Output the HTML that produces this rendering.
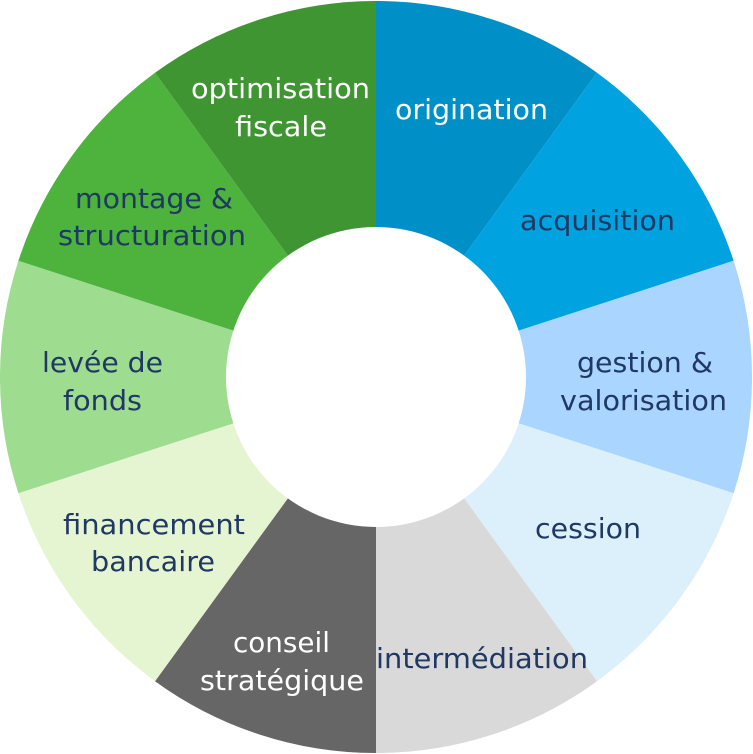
<!DOCTYPE html>
<html><head><meta charset="utf-8"><style>
html,body{margin:0;padding:0;background:#fff;}
svg{display:block}
text{font-family:"DejaVu Sans","Liberation Sans",sans-serif;font-size:28px}
.w{fill:#fff}.d{fill:#1f3864}
</style></head><body>
<svg width="753" height="754" viewBox="0 0 753 754" xmlns="http://www.w3.org/2000/svg">
<path fill="#0090c8" d="M376,377 L376,1 A376,376 0 0 1 597.0,72.8 Z"/>
<path fill="#00a2df" d="M376,377 L597.0,72.8 A376,376 0 0 1 733.6,260.8 Z"/>
<path fill="#a9d5fe" d="M376,377 L733.6,260.8 A376,376 0 0 1 733.6,493.2 Z"/>
<path fill="#dcf0fb" d="M376,377 L733.6,493.2 A376,376 0 0 1 597.0,681.2 Z"/>
<path fill="#d9d9d9" d="M376,377 L597.0,681.2 A376,376 0 0 1 376,753 Z"/>
<path fill="#666666" d="M376,377 L376,753 A376,376 0 0 1 155.0,681.2 Z"/>
<path fill="#e6f5d1" d="M376,377 L155.0,681.2 A376,376 0 0 1 18.4,493.2 Z"/>
<path fill="#9edc90" d="M376,377 L18.4,493.2 A376,376 0 0 1 18.4,260.8 Z"/>
<path fill="#4db33d" d="M376,377 L18.4,260.8 A376,376 0 0 1 155.0,72.8 Z"/>
<path fill="#3f9532" d="M376,377 L155.0,72.8 A376,376 0 0 1 376,1 Z"/>
<circle cx="376" cy="377" r="150" fill="#fff"/>
<g font-size="28">
<text class="w" x="395" y="119" textLength="153" lengthAdjust="spacingAndGlyphs">origination</text>
<text class="d" x="520" y="230" textLength="155" lengthAdjust="spacingAndGlyphs">acquisition</text>
<text class="d" x="577" y="372" textLength="136" lengthAdjust="spacingAndGlyphs">gestion &amp;</text>
<text class="d" x="560" y="410" textLength="167" lengthAdjust="spacingAndGlyphs">valorisation</text>
<text class="d" x="535" y="538" textLength="106" lengthAdjust="spacingAndGlyphs">cession</text>
<text class="d" x="376" y="668" textLength="212" lengthAdjust="spacingAndGlyphs">intermédiation</text>
<text class="w" x="233" y="652" textLength="97" lengthAdjust="spacingAndGlyphs">conseil</text>
<text class="w" x="200" y="690" textLength="164" lengthAdjust="spacingAndGlyphs">stratégique</text>
<text class="d" x="63" y="534" textLength="182" lengthAdjust="spacingAndGlyphs">financement</text>
<text class="d" x="91" y="571" textLength="124" lengthAdjust="spacingAndGlyphs">bancaire</text>
<text class="d" x="42" y="372" textLength="121" lengthAdjust="spacingAndGlyphs">levée de</text>
<text class="d" x="63" y="410" textLength="79" lengthAdjust="spacingAndGlyphs">fonds</text>
<text class="d" x="75" y="208" textLength="158" lengthAdjust="spacingAndGlyphs">montage &amp;</text>
<text class="d" x="58" y="245" textLength="188" lengthAdjust="spacingAndGlyphs">structuration</text>
<text class="w" x="191" y="98" textLength="179" lengthAdjust="spacingAndGlyphs">optimisation</text>
<text class="w" x="235" y="136" textLength="92" lengthAdjust="spacingAndGlyphs">fiscale</text>
</g>
</svg>
</body></html>
